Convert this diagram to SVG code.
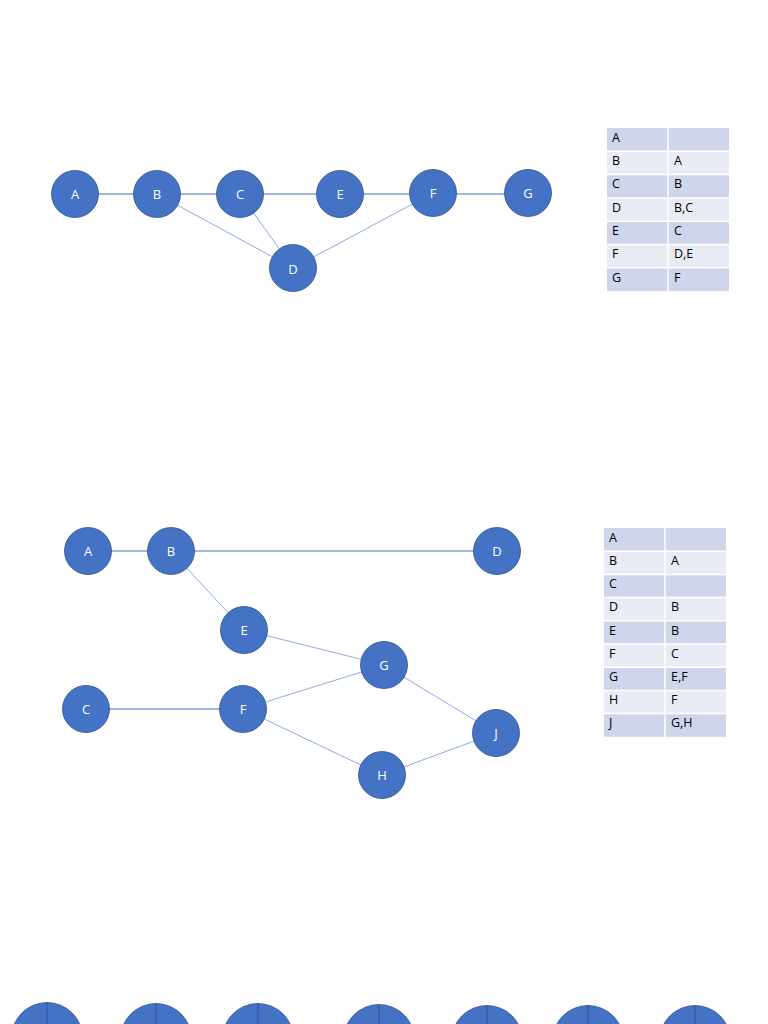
<svg xmlns="http://www.w3.org/2000/svg" width="768" height="1024" viewBox="0 0 768 1024">
<style>
.n{fill:#4472c4;stroke:#2f528f;stroke-width:0.8}
.nt{fill:#ffffff;font-family:"Open Sans","Liberation Sans",sans-serif;font-size:13px;text-anchor:middle;dominant-baseline:central}
.e{stroke:#4472c4;stroke-width:1.2;fill:none}
.d{stroke:#7f9fdc;stroke-width:0.9;fill:none}
.r1{fill:#cfd5ea}
.r2{fill:#e9ebf5}
.tt{fill:#000000;font-family:"Open Sans","Liberation Sans",sans-serif;font-size:12.5px;dominant-baseline:central}
.gl{stroke:#ffffff;stroke-width:1.5}
.v{stroke:#2f528f;stroke-width:1}
</style>
<rect width="768" height="1024" fill="#ffffff"/>
<g id="connectors">
<line class="e" x1="75" y1="194" x2="157" y2="194"/>
<line class="e" x1="157" y1="194" x2="240" y2="194"/>
<line class="e" x1="240" y1="194" x2="340" y2="194"/>
<line class="e" x1="340" y1="194" x2="433" y2="194"/>
<line class="e" x1="433" y1="194" x2="528" y2="194"/>
<line class="d" x1="157" y1="194" x2="293" y2="268"/>
<line class="d" x1="240" y1="194" x2="293" y2="268"/>
<line class="d" x1="293" y1="268" x2="433" y2="193"/>
<line class="e" x1="88" y1="551" x2="171" y2="551"/>
<line class="e" x1="171" y1="551" x2="497" y2="551"/>
<line class="e" x1="86" y1="709" x2="243" y2="709"/>
<line class="d" x1="171" y1="551" x2="244" y2="630"/>
<line class="d" x1="244" y1="630" x2="384" y2="665"/>
<line class="d" x1="243" y1="709" x2="384" y2="665"/>
<line class="d" x1="243" y1="709" x2="382" y2="775"/>
<line class="d" x1="384" y1="665" x2="496" y2="733"/>
<line class="d" x1="382" y1="775" x2="496" y2="733"/>
</g>
<g id="n1A"><circle class="n" cx="75" cy="194" r="23.5"/><text class="nt" x="75" y="194">A</text></g>
<g id="n1B"><circle class="n" cx="157" cy="194" r="23.5"/><text class="nt" x="157" y="194">B</text></g>
<g id="n1C"><circle class="n" cx="240" cy="194" r="23.5"/><text class="nt" x="240" y="194">C</text></g>
<g id="n1E"><circle class="n" cx="340" cy="194" r="23.5"/><text class="nt" x="340" y="194">E</text></g>
<g id="n1F"><circle class="n" cx="433" cy="193" r="23.5"/><text class="nt" x="433" y="193">F</text></g>
<g id="n1G"><circle class="n" cx="528" cy="193" r="23.5"/><text class="nt" x="528" y="193">G</text></g>
<g id="n1D"><circle class="n" cx="293" cy="268" r="23.5"/><text class="nt" x="293" y="269">D</text></g>
<g id="n2A"><circle class="n" cx="88" cy="551" r="23.5"/><text class="nt" x="88" y="551">A</text></g>
<g id="n2B"><circle class="n" cx="171" cy="551" r="23.5"/><text class="nt" x="171" y="551">B</text></g>
<g id="n2D"><circle class="n" cx="497" cy="551" r="23.5"/><text class="nt" x="497" y="551">D</text></g>
<g id="n2E"><circle class="n" cx="244" cy="630" r="23.5"/><text class="nt" x="244" y="630">E</text></g>
<g id="n2G"><circle class="n" cx="384" cy="665" r="23.5"/><text class="nt" x="384" y="665">G</text></g>
<g id="n2C"><circle class="n" cx="86" cy="709" r="23.5"/><text class="nt" x="86" y="709">C</text></g>
<g id="n2F"><circle class="n" cx="243" cy="709" r="23.5"/><text class="nt" x="243" y="709">F</text></g>
<g id="n2H"><circle class="n" cx="382" cy="775" r="23.5"/><text class="nt" x="382" y="775">H</text></g>
<g id="n2J"><circle class="n" cx="496" cy="733" r="23.5"/><text class="nt" x="496" y="733">J</text></g>
<g id="table1">
<rect class="r1" x="607" y="128" width="122" height="23.3"/>
<rect class="r2" x="607" y="151.3" width="122" height="23.3"/>
<rect class="r1" x="607" y="174.6" width="122" height="23.3"/>
<rect class="r2" x="607" y="197.9" width="122" height="23.3"/>
<rect class="r1" x="607" y="221.2" width="122" height="23.3"/>
<rect class="r2" x="607" y="244.5" width="122" height="23.3"/>
<rect class="r1" x="607" y="267.8" width="122" height="23.3"/>
<line class="gl" x1="668" y1="128" x2="668" y2="291"/>
<line class="gl" x1="607" y1="151.3" x2="729" y2="151.3"/>
<line class="gl" x1="607" y1="174.6" x2="729" y2="174.6"/>
<line class="gl" x1="607" y1="197.9" x2="729" y2="197.9"/>
<line class="gl" x1="607" y1="221.2" x2="729" y2="221.2"/>
<line class="gl" x1="607" y1="244.5" x2="729" y2="244.5"/>
<line class="gl" x1="607" y1="267.8" x2="729" y2="267.8"/>
<text class="tt" x="612" y="137">A</text>
<text class="tt" x="612" y="160">B</text><text class="tt" x="674" y="160">A</text>
<text class="tt" x="612" y="183">C</text><text class="tt" x="674" y="183">B</text>
<text class="tt" x="612" y="207">D</text><text class="tt" x="674" y="207">B,C</text>
<text class="tt" x="612" y="230">E</text><text class="tt" x="674" y="230">C</text>
<text class="tt" x="612" y="253">F</text><text class="tt" x="674" y="253">D,E</text>
<text class="tt" x="612" y="277">G</text><text class="tt" x="674" y="277">F</text>
</g>
<g id="table2">
<rect class="r1" x="604" y="528" width="122" height="23.2"/>
<rect class="r2" x="604" y="551.2" width="122" height="23.2"/>
<rect class="r1" x="604" y="574.4" width="122" height="23.2"/>
<rect class="r2" x="604" y="597.6" width="122" height="23.2"/>
<rect class="r1" x="604" y="620.8" width="122" height="23.2"/>
<rect class="r2" x="604" y="644" width="122" height="23.2"/>
<rect class="r1" x="604" y="667.2" width="122" height="23.2"/>
<rect class="r2" x="604" y="690.4" width="122" height="23.2"/>
<rect class="r1" x="604" y="713.6" width="122" height="23.2"/>
<line class="gl" x1="665" y1="528" x2="665" y2="737"/>
<line class="gl" x1="604" y1="551.2" x2="726" y2="551.2"/>
<line class="gl" x1="604" y1="574.4" x2="726" y2="574.4"/>
<line class="gl" x1="604" y1="597.6" x2="726" y2="597.6"/>
<line class="gl" x1="604" y1="620.8" x2="726" y2="620.8"/>
<line class="gl" x1="604" y1="644" x2="726" y2="644"/>
<line class="gl" x1="604" y1="667.2" x2="726" y2="667.2"/>
<line class="gl" x1="604" y1="690.4" x2="726" y2="690.4"/>
<line class="gl" x1="604" y1="713.6" x2="726" y2="713.6"/>
<text class="tt" x="609" y="537">A</text>
<text class="tt" x="609" y="560">B</text><text class="tt" x="671" y="560">A</text>
<text class="tt" x="609" y="583">C</text>
<text class="tt" x="609" y="606">D</text><text class="tt" x="671" y="606">B</text>
<text class="tt" x="609" y="630">E</text><text class="tt" x="671" y="630">B</text>
<text class="tt" x="609" y="653">F</text><text class="tt" x="671" y="653">C</text>
<text class="tt" x="609" y="676">G</text><text class="tt" x="671" y="676">E,F</text>
<text class="tt" x="609" y="699">H</text><text class="tt" x="671" y="699">F</text>
<text class="tt" x="609" y="722">J</text><text class="tt" x="671" y="722">G,H</text>
</g>
<g id="n3a"><circle class="n" cx="47" cy="1038" r="35.5"/><line class="v" x1="47" y1="1002.5" x2="47" y2="1024"/></g>
<g id="n3b"><circle class="n" cx="156" cy="1039" r="35.5"/><line class="v" x1="156" y1="1003.5" x2="156" y2="1024"/></g>
<g id="n3c"><circle class="n" cx="258" cy="1039" r="35.5"/><line class="v" x1="258" y1="1003.5" x2="258" y2="1024"/></g>
<g id="n3d"><circle class="n" cx="379" cy="1040" r="35.5"/><line class="v" x1="379" y1="1004.5" x2="379" y2="1024"/></g>
<g id="n3e"><circle class="n" cx="487" cy="1041" r="35.5"/><line class="v" x1="487" y1="1005.5" x2="487" y2="1024"/></g>
<g id="n3f"><circle class="n" cx="588" cy="1041" r="35.5"/><line class="v" x1="588" y1="1005.5" x2="588" y2="1024"/></g>
<g id="n3g"><circle class="n" cx="695" cy="1041" r="35.5"/><line class="v" x1="695" y1="1005.5" x2="695" y2="1024"/></g>
</svg>
